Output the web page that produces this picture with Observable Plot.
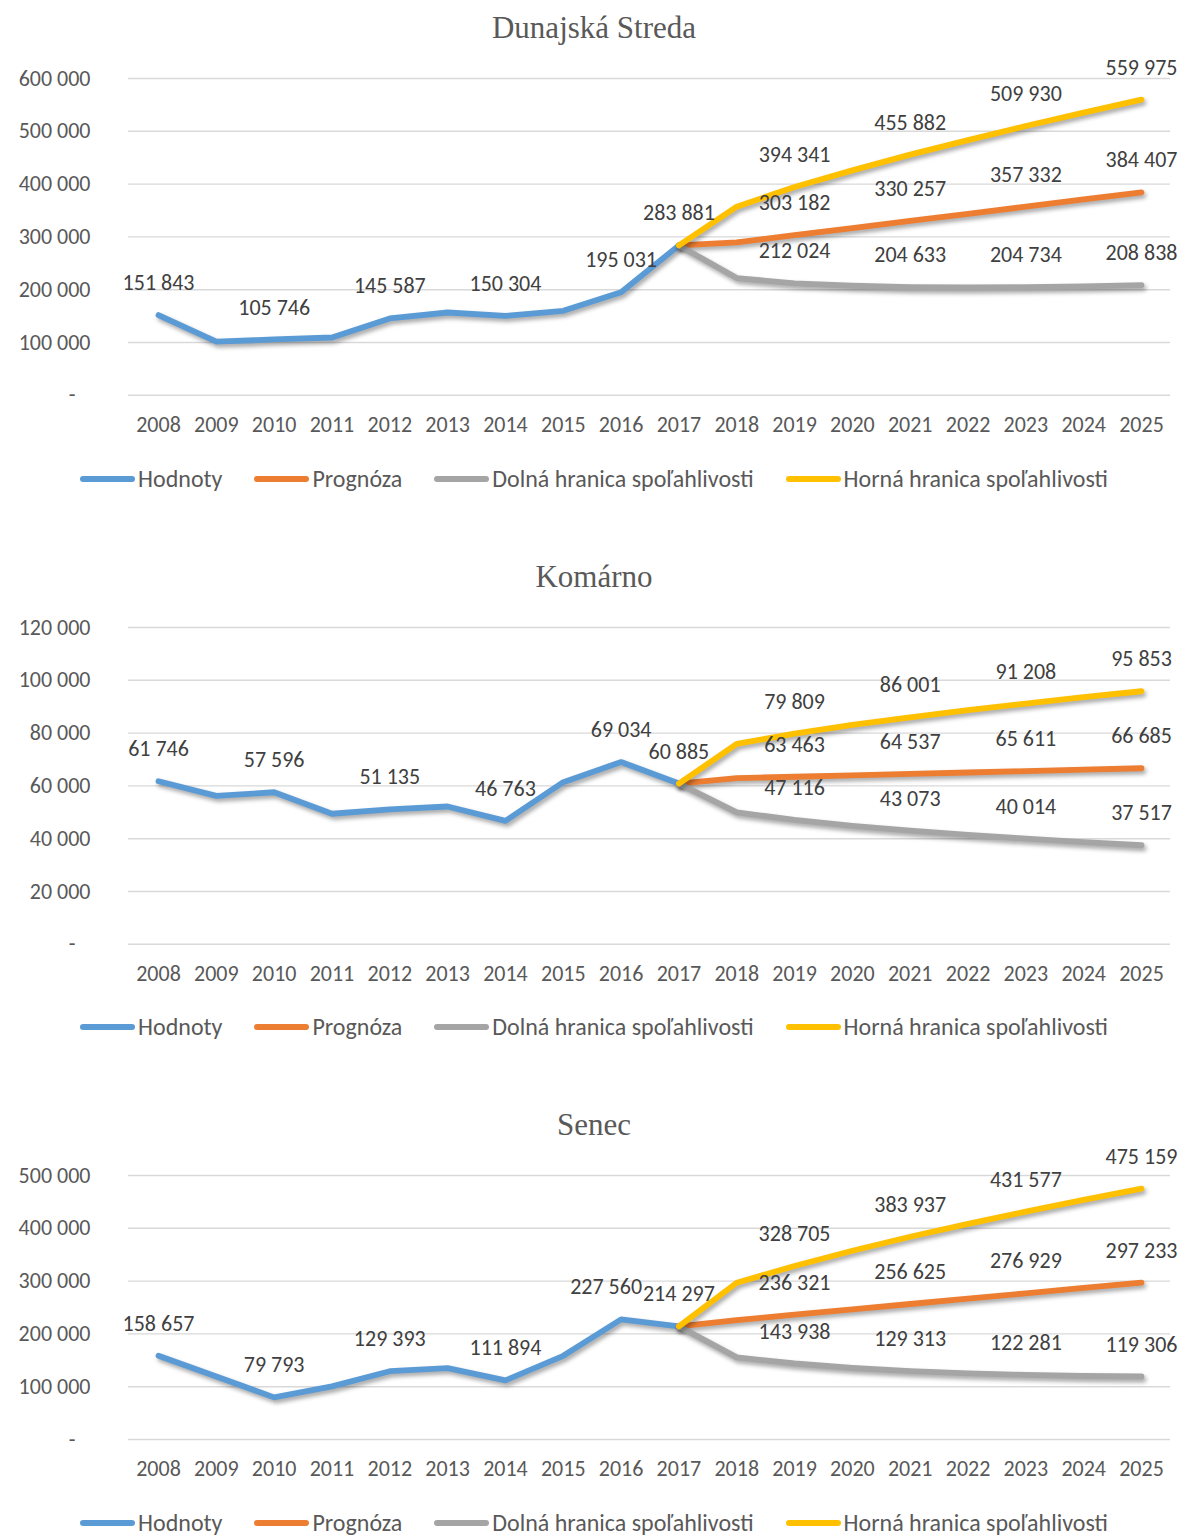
<!DOCTYPE html>
<html>
<head>
<meta charset="utf-8">
<script src="https://cdn.jsdelivr.net/npm/d3@7"></script>
<script src="https://cdn.jsdelivr.net/npm/@observablehq/plot@0.6"></script>
<style>
  html, body { margin: 0; padding: 0; background: #fff; }
  #root { position: relative; width: 1188px; height: 1537px; overflow: hidden; font-family: Carlito, Lato, sans-serif; }
  .panel { position: absolute; left: 0; width: 1188px; }
  .title { position: absolute; left: 0; width: 1188px; text-align: center; font-family: "Liberation Serif", "Times New Roman", serif; font-size: 31px; color: #595959; line-height: 36px; z-index: 2; }
  .panel svg { position: absolute; left: 0; z-index: 1; }
  .legend { position: absolute; left: 0; width: 1188px; display: flex; justify-content: center; align-items: center; font-size: 24px; color: #595959; line-height: 26px; }
  .item { display: flex; align-items: center; margin: 0 16px; }
  .sw { width: 55px; height: 6px; border-radius: 3px; margin-right: 3px; }
</style>
</head>
<body>
<div id="root"></div>
<script>
// ---- data ----
const years = [2008,2009,2010,2011,2012,2013,2014,2015,2016,2017,2018,2019,2020,2021,2022,2023,2024,2025];
const histYears = [2008,2009,2010,2011,2012,2013,2014,2015,2016,2017];
const fcYears = [2017,2018,2019,2020,2021,2022,2023,2024,2025];
const seriesNames = ["Hodnoty","Prognóza","Dolná hranica spoľahlivosti","Horná hranica spoľahlivosti"];
const seriesColors = ["#5B9BD5","#ED7D31","#A5A5A5","#FFC000"];

const titles = ["Dunajská Streda","Komárno","Senec"];

const ds_hodnoty  = [151843,101500,105746,109500,145587,156800,150304,160000,195031,283881];
const ds_prognoza = [283881,289645,303182,316720,330257,343795,357332,370870,384407];
const ds_dolna    = [283881,222000,212024,207440,204633,204190,204734,206240,208838];
const ds_horna    = [283881,357290,394341,426000,455882,483400,509930,535500,559975];

const km_hodnoty  = [61746,56200,57596,49450,51135,52200,46763,61400,69034,60885];
const km_prognoza = [60885,62926,63463,64000,64537,65074,65611,66148,66685];
const km_dolna    = [60885,49952,47116,44900,43073,41448,40014,38696,37517];
const km_horna    = [60885,75900,79809,83100,86001,88700,91208,93600,95853];

const sn_hodnoty  = [158657,119400,79793,100600,129393,135300,111894,158500,227560,214297];
const sn_prognoza = [214297,226169,236321,246473,256625,266777,276929,287081,297233];
const sn_dolna    = [214297,155538,143938,135446,129313,125054,122281,120262,119306];
const sn_horna    = [214297,296800,328705,357500,383937,408500,431577,453900,475159];

const yMax  = [600000,120000,500000];
const yStep = [100000,20000,100000];
const labelHistYears = [2008,2010,2012,2014,2016,2017];
const labelFcYears = [2019,2021,2023,2025];

const panelsData = [
  [ds_hodnoty, ds_prognoza, ds_dolna, ds_horna],
  [km_hodnoty, km_prognoza, km_dolna, km_horna],
  [sn_hodnoty, sn_prognoza, sn_dolna, sn_horna]
];
const panelTops = [0, 548.5, 1097];

// ---- drawing ----
const fmtNum = v => v === 0 ? "-\u00a0\u00a0\u00a0" : d3.format(",")(v).replace(/,/g, " ");
const pxPerStep = 52.8;
const root = document.getElementById("root");
const FONT = "Carlito, Lato, sans-serif";

panelsData.forEach((arrs, p) => {
  const panel = document.createElement("div");
  panel.className = "panel";
  panel.style.top = panelTops[p] + "px";
  root.appendChild(panel);

  const t = document.createElement("div");
  t.className = "title";
  t.style.top = (28 - 18) + "px";
  t.textContent = titles[p];
  panel.appendChild(t);

  const rows = [];
  arrs.forEach((vals, s) => {
    const ys = s === 0 ? histYears : fcYears;
    vals.forEach((v, i) => rows.push({series: seriesNames[s], idx: s, year: ys[i], value: v,
      lab: s === 0 ? labelHistYears.includes(ys[i]) : labelFcYears.includes(ys[i])}));
  });
  // Senec's 2016 label sits a bit left in the original (to clear the 2017 label)
  const shifted = r => p === 2 && r.idx === 0 && r.year === 2016;

  const ticks = d3.range(0, yMax[p] + 1, yStep[p]);
  const plotH = (yMax[p] / yStep[p]) * pxPerStep;
  const svgTop = 18, mTop = 78 - svgTop, mBot = 50;

  const textOpts = {x: "year", y: "value", text: d => fmtNum(d.value), dy: -32,
    fill: "#404040", fontSize: 22, lineAnchor: "middle"};

  const chart = Plot.plot({
    width: 1188,
    height: mTop + plotH + mBot,
    marginLeft: 128, marginRight: 18, marginTop: mTop, marginBottom: mBot,
    style: {fontFamily: FONT, fontSize: "22px", color: "#595959", background: "transparent", overflow: "visible"},
    x: {type: "point", domain: years, range: [158, 1141], padding: 0, round: false, label: null, tickSize: 0, tickPadding: 21, tickFormat: d => String(d)},
    y: {domain: [0, yMax[p]], ticks, label: null, tickSize: 0, tickPadding: 38, tickFormat: fmtNum},
    marks: [
      Plot.ruleY(ticks, {stroke: "#d9d9d9", strokeWidth: 1.4}),
      ...seriesNames.map((nm, s) => Plot.line(rows.filter(r => r.idx === s), {
        x: "year", y: "value", stroke: seriesColors[s], strokeWidth: 5.8,
        strokeLinecap: "round", strokeLinejoin: "round"
      })),
      Plot.text(rows.filter(r => r.lab && !shifted(r)), textOpts),
      Plot.text(rows.filter(r => r.lab && shifted(r)), {...textOpts, dx: -15})
    ]
  });
  chart.style.top = svgTop + "px";
  chart.querySelectorAll('g[aria-label="line"]').forEach(g => {
    g.style.filter = "drop-shadow(2px 3px 2px rgba(0,0,0,0.35))";
  });
  panel.appendChild(chart);

  const lg = document.createElement("div");
  lg.className = "legend";
  lg.style.top = (78 + plotH + 84 - 13) + "px";
  seriesNames.forEach((nm, s) => {
    const it = document.createElement("div");
    it.className = "item";
    const sw = document.createElement("span");
    sw.className = "sw";
    sw.style.background = seriesColors[s];
    const tx = document.createElement("span");
    tx.textContent = nm;
    it.appendChild(sw); it.appendChild(tx);
    lg.appendChild(it);
  });
  panel.appendChild(lg);
});
</script>
</body>
</html>
